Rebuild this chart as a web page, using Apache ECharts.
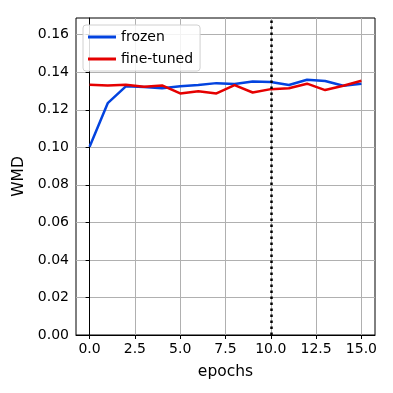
<!DOCTYPE html>
<html>
<head>
<meta charset="utf-8">
<script src="https://cdn.jsdelivr.net/npm/echarts@6/dist/echarts.min.js"></script>
<style>
    html, body {margin: 0; padding: 0; background: #fff;}
    #chart {width: 393px; height: 393px;}
</style>
</head>
<body>
<div id="chart"></div>
<script>
    var epochs = [0, 1, 2, 3, 4, 5, 6, 7, 8, 9, 10, 11, 12, 13, 14, 15];
    var frozen = [0.1003, 0.1235, 0.1325, 0.1321, 0.1315, 0.1325, 0.1332, 0.1342, 0.1337, 0.1351, 0.1348, 0.1332, 0.1360, 0.1353, 0.1328, 0.1339];
    var fineTuned = [0.1333, 0.1330, 0.1333, 0.1323, 0.1330, 0.1287, 0.1299, 0.1287, 0.1331, 0.1292, 0.1310, 0.1315, 0.1339, 0.1305, 0.1328, 0.1355];
    var xTicks = [0, 2.5, 5, 7.5, 10, 12.5, 15];
    var yTicks = [0, 0.02, 0.04, 0.06, 0.08, 0.10, 0.12, 0.14, 0.16];
    var markerEpoch = 10;

    function pairs(values) {
        return epochs.map(function (e, i) { return [e, values[i]]; });
    }

    var chart = echarts.init(document.getElementById('chart'));
    var font = 'DejaVu Sans';
    var option = {
        animation: false,
        textStyle: {fontFamily: font},
        grid: {left: 76, right: 18, top: 18, bottom: 58,
            show: true, borderColor: '#000', borderWidth: 1, backgroundColor: 'transparent'},
        legend: {
            left: 83, top: 25,
            orient: 'vertical',
            itemWidth: 28, itemHeight: 3, itemGap: 8,
            icon: 'rect',
            backgroundColor: 'rgba(255,255,255,0.85)',
            borderColor: '#d0d0d0', borderWidth: 1, borderRadius: 3,
            padding: [5, 7, 5, 5],
            textStyle: {fontSize: 14, color: '#000', fontFamily: font},
            data: ['frozen', 'fine-tuned']
        },
        xAxis: {
            type: 'value', min: -0.75, max: 15.75,
            name: 'epochs', nameLocation: 'middle', nameGap: 29,
            nameTextStyle: {fontSize: 15.5, color: '#000', fontFamily: font},
            axisLine: {onZero: false, lineStyle: {color: '#000', width: 1}},
            axisTick: {customValues: xTicks, length: 4, lineStyle: {color: '#000'}},
            axisLabel: {customValues: xTicks, fontSize: 14, color: '#000', margin: 7,
                formatter: function (v) { return v.toFixed(1); }},
            splitLine: {show: true, lineStyle: {color: '#b0b0b0', width: 1}}
        },
        yAxis: {
            type: 'value', min: 0, max: 0.1689,
            name: 'WMD', nameLocation: 'middle', nameGap: 44,
            nameTextStyle: {fontSize: 15.5, color: '#000', fontFamily: font},
            axisLine: {show: true, lineStyle: {color: '#000', width: 1}},
            axisTick: {show: true, customValues: yTicks, length: 4, lineStyle: {color: '#000'}},
            axisLabel: {customValues: yTicks, fontSize: 14, color: '#000', margin: 7,
                formatter: function (v) { return v.toFixed(2); }},
            splitLine: {show: true, lineStyle: {color: '#b0b0b0', width: 1}}
        },
        series: [
            {
                name: 'frozen', type: 'line', data: pairs(frozen),
                symbol: 'none', color: '#0343df',
                lineStyle: {width: 2.5, color: '#0343df'},
                z: 3,
                markLine: {
                    silent: true, symbol: 'none', label: {show: false},
                    lineStyle: {color: '#000', type: [2.5, 3.5], width: 2.5},
                    data: [{xAxis: markerEpoch}]
                }
            },
            {
                name: 'fine-tuned', type: 'line', data: pairs(fineTuned),
                symbol: 'none', color: '#e50000',
                lineStyle: {width: 2.5, color: '#e50000'},
                z: 4
            }
        ]
    };
    chart.setOption(option);
</script>
</body>
</html>
